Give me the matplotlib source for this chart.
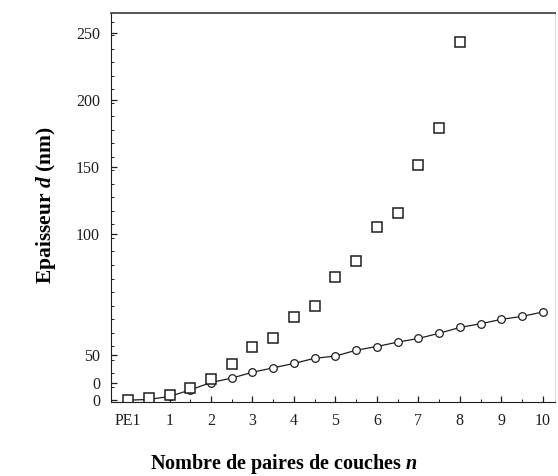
import numpy as np
import matplotlib.pyplot as plt
from matplotlib.ticker import FixedLocator, MultipleLocator

# layer pairs (0 = PE1 base layer)
n_squares = [0, 0.5, 1, 1.5, 2, 2.5, 3, 3.5, 4, 4.5, 5, 5.5, 6, 6.5, 7, 7.5, 8]
d_squares = [0, 1.5, 3.5, 8, 14.5, 24.5, 36, 42, 56.5, 64, 84, 94.5, 118, 127.5, 160, 185, 244]

n_circles = [0, 0.5, 1, 1.5, 2, 2.5, 3, 3.5, 4, 4.5, 5, 5.5, 6, 6.5, 7, 7.5, 8, 8.5, 9, 9.5, 10]
d_circles = [0, 0.5, 2.5, 7, 12, 15, 19, 22, 25, 28.5, 30, 34, 36.5, 39.5, 42, 45.5, 49.5, 52, 55, 57, 60]

x_ticks = [0, 1, 2, 3, 4, 5, 6, 7, 8, 9, 10]
x_labels = ['PE1', '1', '2', '3', '4', '5', '6', '7', '8', '9', '10']
# the scanned axis has irregular label spacing; labels copied as they appear
y_label_pos = [0, 12, 31, 113, 158.5, 204, 250]
y_labels = ['0', '0', '50', '100', '150', '200', '250']

plt.rcParams['font.family'] = ['Liberation Serif', 'DejaVu Serif']
plt.rcParams['mathtext.fontset'] = 'custom'
plt.rcParams['mathtext.it'] = 'Liberation Serif:italic:bold'
plt.rcParams['mathtext.rm'] = 'Liberation Serif:bold'
ink = '#1e1e1e'

fig = plt.figure(figsize=(5.58, 4.76), dpi=100)
ax = fig.add_axes([0.199, 0.155, 0.796, 0.818])

ax.plot(n_circles, d_circles, color=ink, lw=0.9, marker='o', ms=5.5,
        mfc='white', mec=ink, mew=0.9)
ax.plot(n_squares, d_squares, ls='none', marker='s', ms=7,
        mfc='white', mec=ink, mew=1.1)

ax.set_xlim(-0.41, 10.3)
ax.set_ylim(-1.4, 263.6)

ax.xaxis.set_major_locator(FixedLocator(x_ticks))
ax.set_xticklabels(x_labels)
ax.xaxis.set_minor_locator(MultipleLocator(0.5))
ax.yaxis.set_major_locator(FixedLocator(y_label_pos))
ax.set_yticklabels(y_labels)
ax.yaxis.set_minor_locator(MultipleLocator(9.2))

ax.tick_params(which='both', direction='in', colors=ink, labelsize=11.5)
ax.tick_params(which='major', length=4, width=0.9)
ax.tick_params(which='minor', length=2.5, width=0.7)
ax.tick_params(axis='x', pad=8)
ax.tick_params(axis='y', pad=8)

ax.spines['left'].set_color(ink)
ax.spines['bottom'].set_color(ink)
ax.spines['top'].set_color('#555555')
ax.spines['top'].set_linewidth(1.4)
ax.spines['right'].set_color('#dddddd')

ax.set_xlabel('Nombre de paires de couches $n$', fontsize=14.5,
              fontweight='bold')
ax.xaxis.set_label_coords(0.39, -0.128)
ax.set_ylabel('Epaisseur $d$ (nm)', fontsize=15.5, fontweight='bold')
ax.yaxis.set_label_coords(-0.12, 0.505)

plt.savefig('out.png', dpi=100)
